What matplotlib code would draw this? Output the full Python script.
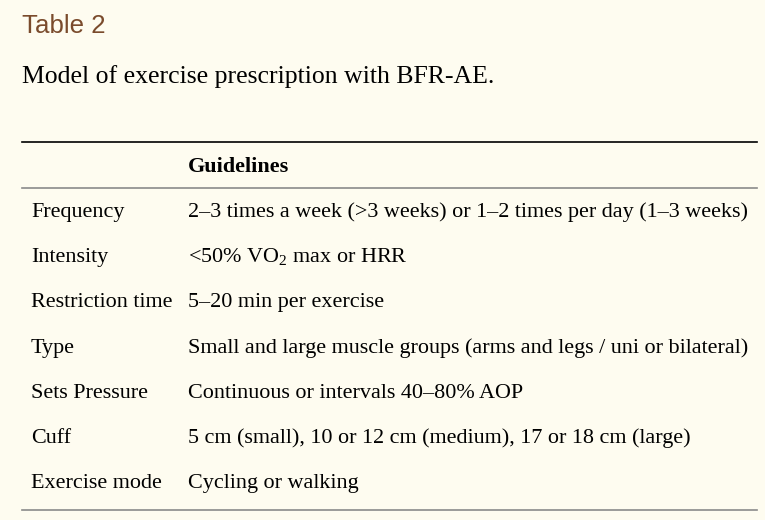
import matplotlib
matplotlib.use('Agg')
import matplotlib.pyplot as plt

# table contents
title = 'Table 2'
caption = 'Model of exercise prescription with BFR-AE.'
header = 'Guidelines'
row_labels = ['Frequency', 'Intensity', 'Restriction time', 'Type',
              'Sets Pressure', 'Cuff', 'Exercise mode']
guidelines = [
    '2\u20133 times a week (>3 weeks) or 1\u20132 times per day (1\u20133 weeks)',
    '<50% $\\mathregular{VO_2}$ max or HRR',
    '5\u201320 min per exercise',
    'Small and large muscle groups (arms and legs / uni or bilateral)',
    'Continuous or intervals 40\u201380% AOP',
    '5 cm (small), 10 or 12 cm (medium), 17 or 18 cm (large)',
    'Cycling or walking',
]

plt.rcParams['mathtext.fontset'] = 'custom'
plt.rcParams['mathtext.rm'] = 'Liberation Serif'

bg = '#fefcf0'
fig = plt.figure(figsize=(7.65, 5.2), dpi=100, facecolor=bg)
ax = fig.add_axes([0, 0, 1, 1])
ax.set_facecolor(bg)
ax.set_xlim(0, 765)
ax.set_ylim(520, 0)
ax.axis('off')

serif = 'Liberation Serif'
fs = 15.9

ax.text(22, 33.3, title, fontsize=18.6, family='Liberation Sans', color='#7a4b2c',
        va='baseline', ha='left')
ax.text(22, 83.5, caption, fontsize=18.5, family=serif, color='black',
        va='baseline', ha='left')

# rules
ax.plot([22, 757], [142, 142], color='black', lw=1.2)
ax.plot([22, 757], [188, 188], color='#8a8a8a', lw=1.2)
ax.plot([22, 757], [510, 510], color='#8a8a8a', lw=1.2)

ax.text(188, 171.7, header, fontsize=fs, family=serif, weight='bold',
        va='baseline', ha='left')

row_y0 = 216.7
row_step = 45.27
for i, (lab, g) in enumerate(zip(row_labels, guidelines)):
    y = row_y0 + i * row_step
    ax.text(31, y, lab, fontsize=fs, family=serif, va='baseline', ha='left')
    ax.text(188, y, g, fontsize=fs, family=serif, va='baseline', ha='left')

fig.savefig('out.png', dpi=100, facecolor=bg)
